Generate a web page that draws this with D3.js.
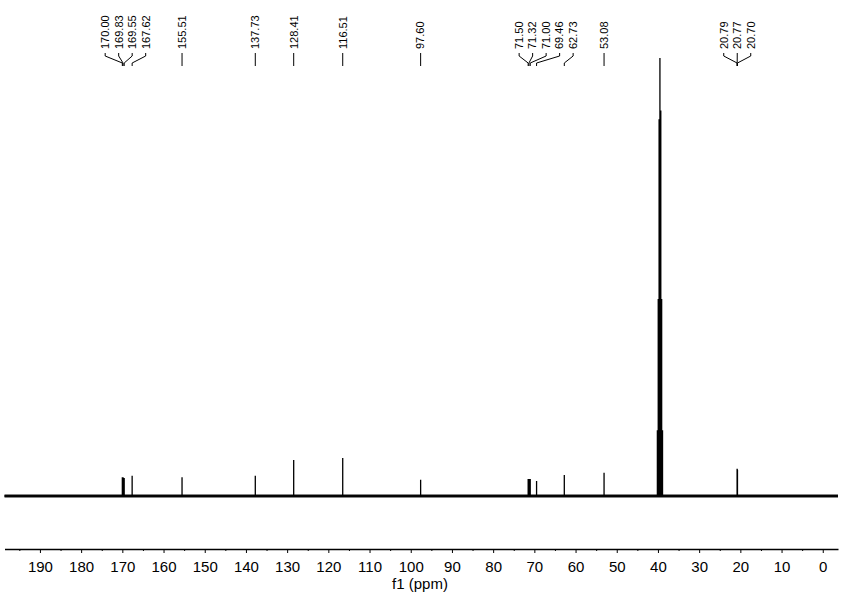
<!DOCTYPE html>
<html>
<head>
<meta charset="utf-8">
<script src="https://cdn.jsdelivr.net/npm/d3@7"></script>
<style>
	body { margin: 0; background: #fff; }
	svg { display: block; font-family: Arial, "Liberation Sans", sans-serif; }
</style>
</head>
<body>
<div id="chart-area"></div>
<script>
/* Data: 13C peaks (ppm) and their heights (solvent top = 100) */
const peakPpm = [170.00, 169.83, 169.55, 167.62, 155.51, 137.73, 128.41, 116.51, 97.60,
	71.50, 71.32, 71.00, 69.46, 62.73, 53.08, 20.79, 20.77, 20.70]
const peakHeight = [4.3, 4.3, 4.1, 4.6, 4.3, 4.6, 8.2, 8.7, 3.7,
	3.9, 3.9, 3.9, 3.4, 4.8, 5.3, 6.2, 6.2, 6.0]

// DMSO-d6 septet
const solventPpm = [40.14, 39.93, 39.72, 39.52, 39.31, 39.10, 38.89]
const solventHeight = [15, 45, 86, 100, 88, 45, 15]

// peak label groups, as printed above the spectrum
const labelGroups = [
	['170.00', '169.83', '169.55', '167.62'],
	['155.51'], ['137.73'], ['128.41'], ['116.51'], ['97.60'],
	['71.50', '71.32', '71.00', '69.46', '62.73'],
	['53.08'],
	['20.79', '20.77', '20.70']
]
const groupShift = [0, 0, 0, 0, 0, 0, 8.5, 0, 0]

const xTicks = d3.range(0, 191, 10)
const xMinorTicks = d3.range(5, 196, 10)
const xLabel = 'f1 (ppm)'

/* Canvas */
const CANVAS_WIDTH = 849
const CANVAS_HEIGHT = 597

const $svg = d3.select('#chart-area')
	.append('svg')
	.attr('width', CANVAS_WIDTH)
	.attr('height', CANVAS_HEIGHT)

/* Scales */
const xScale = d3.scaleLinear()
	.domain([198.6, -3.7])
	.range([4.5, 838])

const yScale = d3.scaleLinear()
	.domain([0, 100])
	.range([496, 58])

/* Spectrum */
const allPeaks = peakPpm.map((p, i) => ({ ppm: p, h: peakHeight[i] }))
	.concat(solventPpm.map((p, i) => ({ ppm: p, h: solventHeight[i] })))
	.sort((a, b) => b.ppm - a.ppm)

const points = [[xScale.domain()[0], 0]]
allPeaks.forEach(d => {
	points.push([d.ppm, 0], [d.ppm, d.h], [d.ppm, 0])
})
points.push([xScale.domain()[1], 0])

const line = d3.line()
	.x(d => xScale(d[0]))
	.y(d => yScale(d[1]))

// baseline noise band
$svg.append('line')
	.attr('x1', xScale.range()[0])
	.attr('x2', xScale.range()[1])
	.attr('y1', yScale(0))
	.attr('y2', yScale(0))
	.attr('stroke', '#111')
	.attr('stroke-width', 3)

$svg.append('path')
	.datum(points)
	.attr('d', line)
	.attr('fill', 'none')
	.attr('stroke', '#000')
	.attr('stroke-width', 1.3)

/* Axes */
const axisY = 549

const xAxisCall = d3.axisBottom(xScale)
	.tickValues(xTicks)
	.tickSize(4)
	.tickSizeOuter(0)
	.tickPadding(8)

const $xAxisGroup = $svg.append('g')
	.attr('transform', `translate(0, ${axisY})`)
	.call(xAxisCall)

$xAxisGroup.select('.domain')
	.attr('stroke-width', 1.4)
$xAxisGroup.selectAll('text')
	.attr('font-size', 15)
	.attr('font-family', 'Arial, "Liberation Sans", sans-serif')
	.attr('fill', '#000')

const minorAxisCall = d3.axisBottom(xScale)
	.tickValues(xMinorTicks)
	.tickSize(2)
	.tickSizeOuter(0)
	.tickFormat('')

const $minorGroup = $svg.append('g')
	.attr('transform', `translate(0, ${axisY})`)
	.call(minorAxisCall)
$minorGroup.select('.domain').remove()

$svg.append('text')
	.attr('x', 420)
	.attr('y', 589)
	.attr('text-anchor', 'middle')
	.attr('font-size', 15)
	.text(xLabel)

/* Peak labels */
const labelSpacing = 13.5
const $labels = $svg.append('g')

labelGroups.forEach((group, gi) => {
	const xs = group.map(d => xScale(+d))
	const center = d3.mean(xs) + groupShift[gi]
	group.forEach((d, i) => {
		const lx = group.length === 1 ? xs[0] : center + (i - (group.length - 1) / 2) * labelSpacing
		$labels.append('text')
			.attr('transform', `translate(${lx}, 49) rotate(-90)`)
			.attr('dy', '0.35em')
			.attr('font-size', 11)
			.text(d)

		const path = group.length === 1
			? `M${lx},53V66`
			: `M${lx},53V56L${xs[i]},63V66`
		$labels.append('path')
			.attr('d', path)
			.attr('fill', 'none')
			.attr('stroke', '#000')
			.attr('stroke-width', 1)
	})
})
</script>
</body>
</html>
